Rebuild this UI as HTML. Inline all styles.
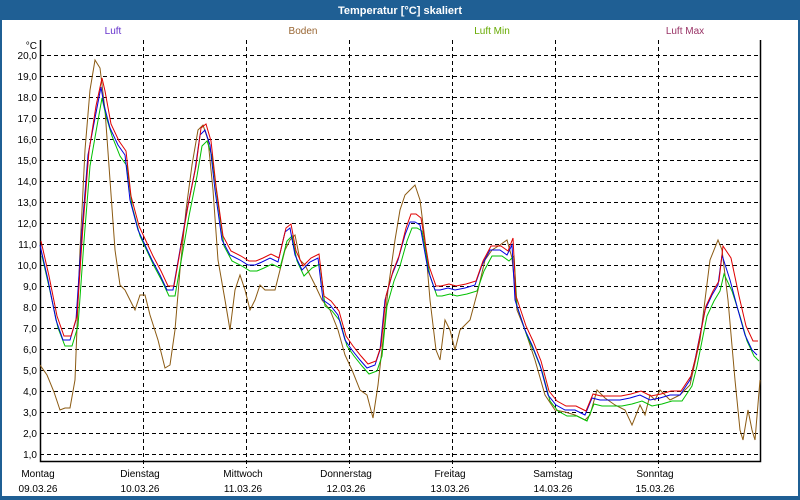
<!DOCTYPE html><html><head><style>body{margin:0}svg{display:block;font-family:"Liberation Sans",sans-serif}</style></head><body>
<svg width="800" height="500" viewBox="0 0 800 500">
<rect width="800" height="500" fill="#1f5f94"/>
<rect x="2" y="20" width="796" height="476" fill="#fff"/>
<text x="400" y="14" fill="#fff" font-size="11" font-weight="bold" text-anchor="middle">Temperatur [°C] skaliert</text>
<g font-size="10" text-anchor="middle">
<text x="113" y="34" fill="#6633cc">Luft</text>
<text x="303" y="34" fill="#996633">Boden</text>
<text x="492" y="34" fill="#66aa00">Luft Min</text>
<text x="685" y="34" fill="#993366">Luft Max</text>
</g>
<g stroke="#000" stroke-dasharray="4,3" stroke-width="1">
<path d="M40 55.5H760M40 76.5H760M40 97.5H760M40 118.5H760M40 139.5H760M40 160.5H760M40 181.5H760M40 202.5H760M40 223.5H760M40 244.5H760M40 265.5H760M40 286.5H760M40 307.5H760M40 328.5H760M40 349.5H760M40 370.5H760M40 391.5H760M40 412.5H760M40 433.5H760M40 454.5H760"/>
<path d="M143.5 40V468M246.5 40V468M349.5 40V468M452.5 40V468M555.5 40V468M658.5 40V468"/>
</g>
<path d="M40.5 40V461.5H760.5V40" fill="none" stroke="#000" stroke-width="1.5"/>
<g font-size="10" text-anchor="end" fill="#000">
<text x="37" y="49">°C</text>
<text x="37" y="59">20,0</text><text x="37" y="80">19,0</text><text x="37" y="101">18,0</text><text x="37" y="122">17,0</text><text x="37" y="143">16,0</text><text x="37" y="164">15,0</text><text x="37" y="185">14,0</text><text x="37" y="206">13,0</text><text x="37" y="227">12,0</text><text x="37" y="248">11,0</text><text x="37" y="269">10,0</text><text x="37" y="290">9,0</text><text x="37" y="311">8,0</text><text x="37" y="332">7,0</text><text x="37" y="353">6,0</text><text x="37" y="374">5,0</text><text x="37" y="395">4,0</text><text x="37" y="416">3,0</text><text x="37" y="437">2,0</text><text x="37" y="458">1,0</text>
</g>
<g font-size="10" text-anchor="middle">
<text x="38" y="477">Montag</text><text x="38" y="492">09.03.26</text>
<text x="140" y="477">Dienstag</text><text x="140" y="492">10.03.26</text>
<text x="243" y="477">Mittwoch</text><text x="243" y="492">11.03.26</text>
<text x="346" y="477">Donnerstag</text><text x="346" y="492">12.03.26</text>
<text x="450" y="477">Freitag</text><text x="450" y="492">13.03.26</text>
<text x="553" y="477">Samstag</text><text x="553" y="492">14.03.26</text>
<text x="655" y="477">Sonntag</text><text x="655" y="492">15.03.26</text>
</g>
<g fill="none" stroke-width="1">
<polyline stroke="#8b5a12" points="40,365 47,375 54,392 60,410 65,408 70,408 75,380 80,250 85,150 90,90 95,60 100,68 105,110 110,180 115,250 120,285 125,290 130,300 135,310 140,295 145,295 150,315 158,340 165,368 170,365 175,330 180,270 186,210 192,165 198,130 203,125 208,140 213,190 218,260 225,300 230,330 235,290 240,275 245,290 250,310 255,300 260,285 265,290 275,290 285,250 290,240 295,235 300,260 305,265 315,285 322,300 330,310 338,330 345,355 352,370 360,390 367,395 373,418 378,385 383,340 388,290 395,240 400,210 405,195 410,190 415,185 420,200 425,240 430,300 436,350 440,360 445,320 450,330 455,350 460,330 470,320 478,290 485,260 492,250 500,245 507,240 512,258 517,310 525,330 535,360 545,395 555,410 565,412 575,415 585,420 590,415 597,390 605,398 615,405 625,410 632,425 640,405 645,415 650,395 655,400 660,390 670,400 680,395 690,385 700,340 710,260 718,240 722,250 728,300 735,380 740,430 743,440 748,410 752,430 755,440 760,380"/>
<polyline stroke="#00c000" transform="translate(2,6)" points="40,250 48,285 56,322 63,340 70,340 76,320 82,235 88,160 95,120 100,92 104,110 110,130 118,150 125,160 130,200 138,230 145,245 152,260 160,275 167,290 173,290 180,250 187,210 195,170 200,140 205,135 210,150 215,190 222,240 230,255 240,260 248,265 255,265 262,262 270,258 278,262 285,235 290,230 295,255 302,270 310,262 318,258 323,300 330,305 338,315 345,340 352,350 360,360 367,368 375,365 380,350 385,300 392,275 398,260 405,235 410,222 415,222 420,225 428,270 435,290 440,290 448,288 455,290 465,288 475,285 482,265 490,250 500,250 507,255 512,250 515,300 520,315 525,330 532,345 540,365 548,395 556,405 565,410 575,410 585,415 592,398 600,400 610,400 620,400 630,398 640,395 650,400 660,398 670,395 680,395 690,380 695,360 705,310 712,295 718,285 722,268 730,285 738,310 745,335 752,350 757,355"/>
<polyline stroke="#0000e0" points="40,245 48,280 56,320 63,340 70,340 76,320 82,230 88,155 95,118 101,87 104,105 110,128 118,145 125,155 130,200 138,230 145,245 152,260 160,275 167,290 173,290 180,250 187,210 195,170 200,135 205,130 210,145 215,190 222,240 230,255 240,260 248,265 255,265 262,262 270,258 278,262 285,232 290,228 295,255 302,270 310,262 318,258 323,300 330,305 338,315 345,340 352,350 360,360 367,368 375,365 380,350 385,300 392,275 398,260 405,235 410,222 415,222 420,225 428,270 435,290 440,290 448,288 455,290 465,288 475,285 482,265 490,250 500,250 507,255 512,245 515,300 520,315 525,330 532,345 540,365 548,395 556,405 565,410 575,410 585,415 592,398 600,400 610,400 620,400 630,398 640,395 650,400 660,398 670,395 680,395 690,380 695,360 705,310 712,295 718,285 722,255 730,280 738,310 745,335 752,350 757,355"/>
<polyline stroke="#e00000" transform="translate(1,-4)" points="40,245 48,280 56,320 63,340 70,340 76,320 82,230 88,155 95,110 101,82 104,95 110,128 118,145 125,155 130,200 138,230 145,245 152,260 160,275 167,290 173,290 180,250 187,210 195,170 200,132 205,128 210,145 215,190 222,240 230,255 240,260 248,265 255,265 262,262 270,258 278,262 285,232 290,228 295,255 302,270 310,262 318,258 323,300 330,305 338,315 345,340 352,350 360,360 367,368 375,365 380,350 385,300 392,275 398,260 405,232 410,218 415,218 420,222 428,270 435,290 440,290 448,288 455,290 465,288 475,285 482,265 490,250 500,250 507,255 512,242 515,300 520,315 525,330 532,345 540,365 548,395 556,405 565,410 575,410 585,415 592,398 600,400 610,400 620,400 630,398 640,395 650,400 660,398 670,395 680,395 690,380 695,360 705,310 712,295 718,285 722,250 730,262 738,300 745,330 752,345 757,345"/>
</g>
</svg></body></html>
